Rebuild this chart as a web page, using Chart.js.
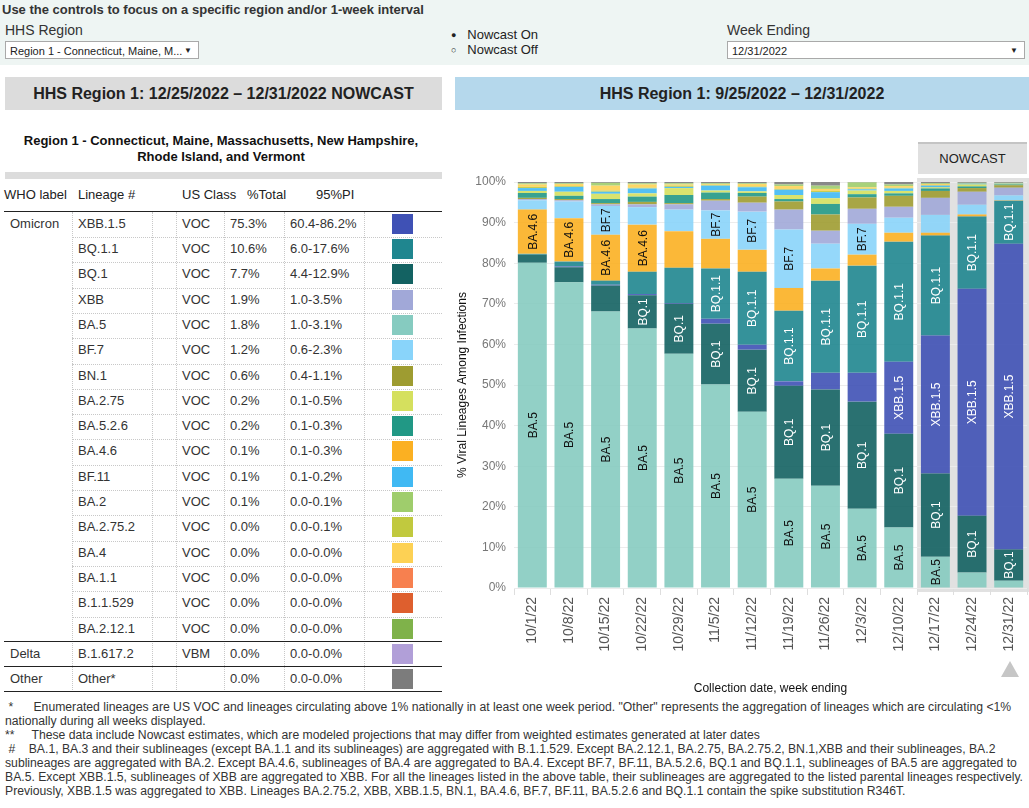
<!DOCTYPE html>
<html>
<head>
<meta charset="utf-8">
<script src="https://cdn.jsdelivr.net/npm/chart.js@4.4.0/dist/chart.umd.min.js"></script>
<style>
  body { margin:0; width:1029px; height:808px; position:relative; overflow:hidden; background:#fff;
         font-family:"Liberation Sans", Arial, sans-serif; color:#333; }
  .abs { position:absolute; white-space:nowrap; }
  .band { position:absolute; left:0; top:0; width:1029px; height:65px; background:#eef5f3; }
  .select { position:absolute; height:18px; border:1px solid #a9a9a9; background:#fff; font-size:11px;
            line-height:18px; padding-left:4px; box-sizing:border-box; color:#222; }
  .select span { position:absolute; right:6px; top:0; font-size:8px; }
  .head { position:absolute; top:77px; height:33px; font-weight:bold; font-size:16px; line-height:33px;
          text-align:center; color:#222; }
  .cell { position:absolute; font-size:13px; white-space:nowrap; color:#333; }
  .vdot { position:absolute; width:0; border-left:1px dotted #c8c8c8; }
  .hdot { position:absolute; height:0; border-top:1px dotted #c8c8c8; }
  .hsolid { position:absolute; left:4px; width:438px; height:0; border-top:1.5px solid #222; }
  .sw { position:absolute; left:392px; width:21px; height:20px; }
  #notes { position:absolute; left:5px; top:700px; width:1020px; font-size:12.5px; line-height:14px; color:#333; }
  #notes div { white-space:nowrap; transform-origin:0 0; }
  #notes span { display:inline-block; }
  #chartBox { position:absolute; left:451px; top:140px; width:578px; height:560px; }
  .nowcast { position:absolute; left:918px; top:142px; width:109px; height:30px; background:#e0e0e0;
             border-top:2px solid #c4c4c4; font-size:13px; line-height:30px; text-align:center; color:#222; z-index:2; }
  .tri { position:absolute; left:1001px; top:661px; width:0; height:0; border-left:9px solid transparent;
         border-right:9px solid transparent; border-bottom:16px solid #c6c6c6; }
</style>
</head>
<body>

<div class="band"></div>
<div class="abs" style="left:2px;top:2px;font-size:13px;font-weight:bold;color:#333;">Use the controls to focus on a specific region and/or 1-week interval</div>
<div class="abs" style="left:5px;top:22px;font-size:14px;color:#333;">HHS Region</div>
<div class="select" style="left:5px;top:41px;width:194px;">Region 1 - Connecticut, Maine, M...<span>▼</span></div>
<div class="abs" style="left:451px;top:27px;font-size:13px;color:#222;"><span style="font-size:9px;position:relative;top:-1px;">●</span>&nbsp;&nbsp;&nbsp;Nowcast On</div>
<div class="abs" style="left:451px;top:42px;font-size:13px;color:#222;"><span style="font-size:9px;position:relative;top:-1px;">○</span>&nbsp;&nbsp;&nbsp;Nowcast Off</div>
<div class="abs" style="left:727px;top:22px;font-size:14px;color:#333;">Week Ending</div>
<div class="select" style="left:727px;top:41px;width:298px;">12/31/2022<span>▼</span></div>

<div class="head" style="left:5px;width:437px;background:#dcdcdc;">HHS Region 1: 12/25/2022 – 12/31/2022 NOWCAST</div>
<div class="head" style="left:455px;width:574px;background:#b5d8ec;">HHS Region 1: 9/25/2022 – 12/31/2022</div>

<div class="abs" style="left:5px;top:133px;width:432px;text-align:center;font-size:13px;font-weight:bold;color:#111;line-height:16px;white-space:normal;">Region 1 - Connecticut, Maine, Massachusetts, New Hampshire,<br>Rhode Island, and Vermont</div>
<div class="abs" style="left:5px;top:172px;width:437px;height:7px;background:#dcdcdc;"></div>

<div id="table"></div>

<div id="chartBox"><canvas id="lineageChart"></canvas></div>
<div class="nowcast">NOWCAST</div>
<div class="tri"></div>

<div id="notes">
  <div><span>&nbsp;*&nbsp;&nbsp;&nbsp;&nbsp;&nbsp;&nbsp;Enumerated lineages are US VOC and lineages circulating above 1% nationally in at least one week period. "Other" represents the aggregation of lineages which are circulating &lt;1%</span></div>
  <div><span>nationally during all weeks displayed.</span></div>
  <div><span>**&nbsp;&nbsp;&nbsp;&nbsp;&nbsp;These data include Nowcast estimates, which are modeled projections that may differ from weighted estimates generated at later dates</span></div>
  <div><span>&nbsp;#&nbsp;&nbsp;&nbsp;&nbsp;BA.1, BA.3 and their sublineages (except BA.1.1 and its sublineages) are aggregated with B.1.1.529. Except BA.2.12.1, BA.2.75, BA.2.75.2, BN.1,XBB and their sublineages, BA.2</span></div>
  <div><span>sublineages are aggregated with BA.2. Except BA.4.6, sublineages of BA.4 are aggregated to BA.4. Except BF.7, BF.11, BA.5.2.6, BQ.1 and BQ.1.1, sublineages of BA.5 are aggregated to</span></div>
  <div><span>BA.5. Except XBB.1.5, sublineages of XBB are aggregated to XBB. For all the lineages listed in the above table, their sublineages are aggregated to the listed parental lineages respectively.</span></div>
  <div><span>Previously, XBB.1.5 was aggregated to XBB. Lineages BA.2.75.2, XBB, XBB.1.5, BN.1, BA.4.6, BF.7, BF.11, BA.5.2.6 and BQ.1.1 contain the spike substitution R346T.</span></div>
</div>

<script>
/* =========================================================
   DATA
========================================================= */
const weeks = ["10/1/22", "10/8/22", "10/15/22", "10/22/22", "10/29/22", "11/5/22", "11/12/22",
               "11/19/22", "11/26/22", "12/3/22", "12/10/22", "12/17/22", "12/24/22", "12/31/22"];
const nowcastWeeks = ["12/17/22", "12/24/22", "12/31/22"];
const yTicks = [0, 10, 20, 30, 40, 50, 60, 70, 80, 90, 100];

// weekly share (%)
const BA5      = [80.1, 75.3, 68.1, 63.9, 57.7, 50.1, 43.4, 26.9, 25.2, 19.5, 14.9, 7.7, 3.8, 1.8];
const BQ1      = [2.0, 3.7, 6.4, 8.2, 12.3, 15.0, 15.3, 22.9, 23.7, 26.4, 23.1, 20.5, 14.0, 7.7];
const XBB15    = [0.0, 0.2, 0.2, 0.3, 0.2, 1.2, 1.2, 1.1, 4.1, 7.1, 17.7, 34.0, 55.9, 75.3];
const BQ11     = [0.2, 1.2, 1.0, 5.5, 8.7, 12.4, 18.0, 17.4, 22.7, 26.4, 29.6, 24.6, 17.8, 10.6];
const BA46     = [10.9, 10.7, 11.3, 11.6, 9.0, 7.3, 5.4, 5.6, 3.0, 2.7, 2.2, 0.7, 0.5, 0.1];
const BF7      = [2.3, 4.1, 7.1, 4.3, 5.3, 7.0, 9.4, 14.4, 6.1, 7.6, 3.7, 4.4, 2.4, 1.2];
const XBB      = [0.3, 0.3, 0.4, 0.7, 1.3, 2.4, 2.2, 4.9, 3.2, 3.7, 2.7, 4.2, 3.2, 1.9];
const BN1      = [0.3, 0.3, 0.3, 0.6, 0.3, 0.4, 1.5, 2.0, 4.0, 2.8, 2.7, 1.7, 0.9, 0.6];
const BA526    = [1.2, 0.8, 1.0, 1.3, 2.0, 1.6, 0.9, 0.6, 2.6, 0.8, 0.6, 0.6, 0.4, 0.2];
const BA275    = [0.5, 1.0, 1.3, 0.8, 1.7, 0.5, 0.4, 1.0, 1.4, 0.9, 0.6, 0.3, 0.5, 0.2];
const BF11     = [0.7, 1.2, 0.5, 1.2, 0.3, 1.2, 1.0, 1.3, 1.5, 0.3, 0.6, 0.4, 0.2, 0.1];
const BA2752   = [0.3, 0.2, 0.3, 0.2, 0.3, 0.2, 0.2, 0.2, 0.3, 0.2, 0.2, 0.1, 0.1, 0.0];
const BA4      = [0.6, 0.5, 1.2, 0.8, 0.3, 0.2, 0.6, 0.7, 0.5, 0.3, 0.4, 0.3, 0.0, 0.0];
const BA2      = [0.3, 0.2, 0.7, 0.3, 0.3, 0.2, 0.2, 0.4, 0.8, 1.2, 0.4, 0.2, 0.1, 0.1];
const BA2121   = [0, 0, 0, 0, 0, 0, 0, 0, 0, 0, 0, 0, 0, 0];
const BA11     = [0, 0, 0, 0, 0, 0, 0, 0, 0, 0, 0, 0, 0, 0];
const B11529   = [0, 0, 0, 0, 0, 0, 0, 0, 0, 0, 0, 0, 0, 0];
const B16172   = [0, 0, 0, 0, 0, 0, 0, 0, 0, 0, 0, 0, 0, 0];
const OTHER    = [0.3, 0.3, 0.3, 0.3, 0.3, 0.3, 0.3, 0.6, 0.9, 0.1, 0.6, 0.3, 0.2, 0.2];

// table for the selected week (12/25 – 12/31)
const tableWho     = ["Omicron", "", "", "", "", "", "", "", "", "", "", "", "", "", "", "", "", "Delta", "Other"];
const tableLineage = ["XBB.1.5", "BQ.1.1", "BQ.1", "XBB", "BA.5", "BF.7", "BN.1", "BA.2.75", "BA.5.2.6", "BA.4.6",
                      "BF.11", "BA.2", "BA.2.75.2", "BA.4", "BA.1.1", "B.1.1.529", "BA.2.12.1", "B.1.617.2", "Other*"];
const tableClass   = ["VOC", "VOC", "VOC", "VOC", "VOC", "VOC", "VOC", "VOC", "VOC", "VOC",
                      "VOC", "VOC", "VOC", "VOC", "VOC", "VOC", "VOC", "VBM", ""];
const tableShare   = ["75.3%", "10.6%", "7.7%", "1.9%", "1.8%", "1.2%", "0.6%", "0.2%", "0.2%", "0.1%",
                      "0.1%", "0.1%", "0.0%", "0.0%", "0.0%", "0.0%", "0.0%", "0.0%", "0.0%"];
const tablePI      = ["60.4-86.2%", "6.0-17.6%", "4.4-12.9%", "1.0-3.5%", "1.0-3.1%", "0.6-2.3%", "0.4-1.1%",
                      "0.1-0.5%", "0.1-0.3%", "0.1-0.3%", "0.1-0.2%", "0.0-0.1%", "0.0-0.1%", "0.0-0.0%",
                      "0.0-0.0%", "0.0-0.0%", "0.0-0.0%", "0.0-0.0%", "0.0-0.0%"];

/* =========================================================
   COLOURS
========================================================= */
const lineageColors = {
    "XBB.1.5": "#3f51b5", "BQ.1.1": "#1f868f", "BQ.1": "#136262", "XBB": "#a1a8d8",
    "BA.5": "#86cbc0", "BF.7": "#89d4fa", "BN.1": "#9e9c31", "BA.2.75": "#d5e05e",
    "BA.5.2.6": "#219885", "BA.4.6": "#fbb022", "BF.11": "#40b9f3", "BA.2": "#9fcd6c",
    "BA.2.75.2": "#c1c93e", "BA.4": "#fdd154", "BA.1.1": "#f7804f", "B.1.1.529": "#de5f2e",
    "BA.2.12.1": "#7fb24a", "B.1.617.2": "#b19fd8", "Other": "#7c7c7c", "Other*": "#7c7c7c"
};
const whiteLabels = ["BQ.1", "BQ.1.1", "XBB.1.5"];

function withAlpha(hex, a) {
    const n = parseInt(hex.slice(1), 16);
    return `rgba(${n >> 16}, ${(n >> 8) & 255}, ${n & 255}, ${a})`;
}

/* =========================================================
   FOOTNOTES — squeeze to the narrow face of the original
========================================================= */
const noteLines = document.querySelectorAll("#notes div");
const fullLine = noteLines[5].querySelector("span").getBoundingClientRect().width;
const squeeze = 1018 / fullLine;
noteLines.forEach(d => { d.style.transform = `scaleX(${squeeze})`; });

/* =========================================================
   TABLE
========================================================= */
const table = document.getElementById("table");
const rowTop = 211.7, rowH = 25.3;
let html = "";

[["WHO label", 4], ["Lineage #", 78], ["US Class", 182], ["%Total", 247], ["95%PI", 316]].forEach(([t, x]) => {
    html += `<div class="cell" style="left:${x}px;top:187px;color:#222;">${t}</div>`;
});

tableLineage.forEach((name, i) => {
    const top = rowTop + i * rowH;
    const ty = top + 4;
    html += `<div class="cell" style="left:10px;top:${ty}px;">${tableWho[i]}</div>`;
    html += `<div class="cell" style="left:78px;top:${ty}px;">${name}</div>`;
    html += `<div class="cell" style="left:182px;top:${ty}px;">${tableClass[i]}</div>`;
    html += `<div class="cell" style="left:230px;top:${ty}px;">${tableShare[i]}</div>`;
    html += `<div class="cell" style="left:290px;top:${ty}px;">${tablePI[i]}</div>`;
    html += `<div class="sw" style="top:${top + 2}px;background:${lineageColors[name]};"></div>`;
    if (i < 16) html += `<div class="hdot" style="left:72px;width:370px;top:${top + rowH}px;"></div>`;
});

[72, 152, 176, 224, 284, 364].forEach(x => {
    html += `<div class="vdot" style="left:${x}px;top:${rowTop}px;height:${rowH * tableLineage.length}px;"></div>`;
});
[0, 17, 18, 19].forEach(k => {
    html += `<div class="hsolid" style="top:${rowTop + k * rowH - 1}px;"></div>`;
});
table.innerHTML = html;

/* =========================================================
   CHART.JS — stacked lineage proportions
========================================================= */
const series = [
    ["BA.5", BA5], ["BQ.1", BQ1], ["XBB.1.5", XBB15], ["BQ.1.1", BQ11], ["BA.4.6", BA46],
    ["BF.7", BF7], ["XBB", XBB], ["BN.1", BN1], ["BA.5.2.6", BA526], ["BA.2.75", BA275],
    ["BF.11", BF11], ["BA.2.75.2", BA2752], ["BA.4", BA4], ["BA.2", BA2], ["BA.2.12.1", BA2121],
    ["BA.1.1", BA11], ["B.1.1.529", B11529], ["B.1.617.2", B16172], ["Other", OTHER]
];

// grey background behind the nowcast weeks
const nowcastBand = {
    id: "nowcastBand",
    beforeDraw(chart) {
        const x = chart.scales.x;
        const ctx = chart.ctx;
        const step = x.getPixelForValue(1) - x.getPixelForValue(0);
        const left = x.getPixelForValue(weeks.indexOf(nowcastWeeks[0])) - step / 2;
        const { top, bottom } = chart.chartArea;
        ctx.save();
        ctx.fillStyle = "#e1e1e1";
        ctx.fillRect(left, top - 4, chart.width - left, bottom - top + 8);
        ctx.restore();
    }
};

// rotated lineage names inside segments that are tall enough
const segmentLabels = {
    id: "segmentLabels",
    afterDatasetsDraw(chart) {
        const ctx = chart.ctx;
        ctx.save();
        ctx.font = '12px "Liberation Sans", Arial';
        ctx.textAlign = "center";
        ctx.textBaseline = "middle";
        chart.data.datasets.forEach((ds, i) => {
            const tw = ctx.measureText(ds.label).width;
            chart.getDatasetMeta(i).data.forEach(bar => {
                const h = bar.base - bar.y;
                if (tw + 2 > h) return;
                ctx.save();
                ctx.translate(bar.x, (bar.y + bar.base) / 2);
                ctx.rotate(-Math.PI / 2);
                ctx.fillStyle = whiteLabels.includes(ds.label) ? "#fff" : "#111";
                ctx.fillText(ds.label, 0, 1);
                ctx.restore();
            });
        });
        ctx.restore();
    }
};

new Chart(document.getElementById("lineageChart"), {
    type: "bar",
    data: {
        labels: weeks,
        datasets: series.map(([name, values]) => ({
            label: name,
            data: values,
            backgroundColor: withAlpha(lineageColors[name], 0.9),
            borderWidth: 0,
            barPercentage: 0.79,
            categoryPercentage: 1
        }))
    },
    options: {
        responsive: true,
        maintainAspectRatio: false,
        animation: false,
        layout: { padding: { top: 42, right: 2, left: 0, bottom: 0 } },
        plugins: {
            legend: { display: false },
            tooltip: { enabled: false }
        },
        scales: {
            x: {
                stacked: true,
                afterFit: s => { s.height = 112; },
                border: { display: false },
                grid: { drawOnChartArea: false, drawTicks: true, tickLength: 7, color: "#dedede", offset: true },
                ticks: {
                    autoSkip: false, minRotation: 90, maxRotation: 90, padding: 2,
                    color: "#555", font: { size: 14, family: '"Liberation Sans", Arial' }
                },
                title: {
                    display: true, text: "Collection date, week ending", color: "#111",
                    font: { size: 12, family: '"Liberation Sans", Arial' }
                }
            },
            y: {
                stacked: true,
                min: 0,
                max: 100,
                afterFit: s => { s.width = 63; },
                afterBuildTicks: s => { s.ticks = yTicks.map(v => ({ value: v })); },
                border: { display: false },
                grid: { color: "#ececec", drawTicks: false },
                ticks: {
                    padding: 8, color: "#777",
                    font: { size: 12, family: '"Liberation Sans", Arial' },
                    callback: v => v + "%"
                },
                title: {
                    display: true, text: "% Viral Lineages Among Infections", color: "#111",
                    font: { size: 12, family: '"Liberation Sans", Arial' }
                }
            }
        }
    },
    plugins: [nowcastBand, segmentLabels]
});
</script>
</body>
</html>
